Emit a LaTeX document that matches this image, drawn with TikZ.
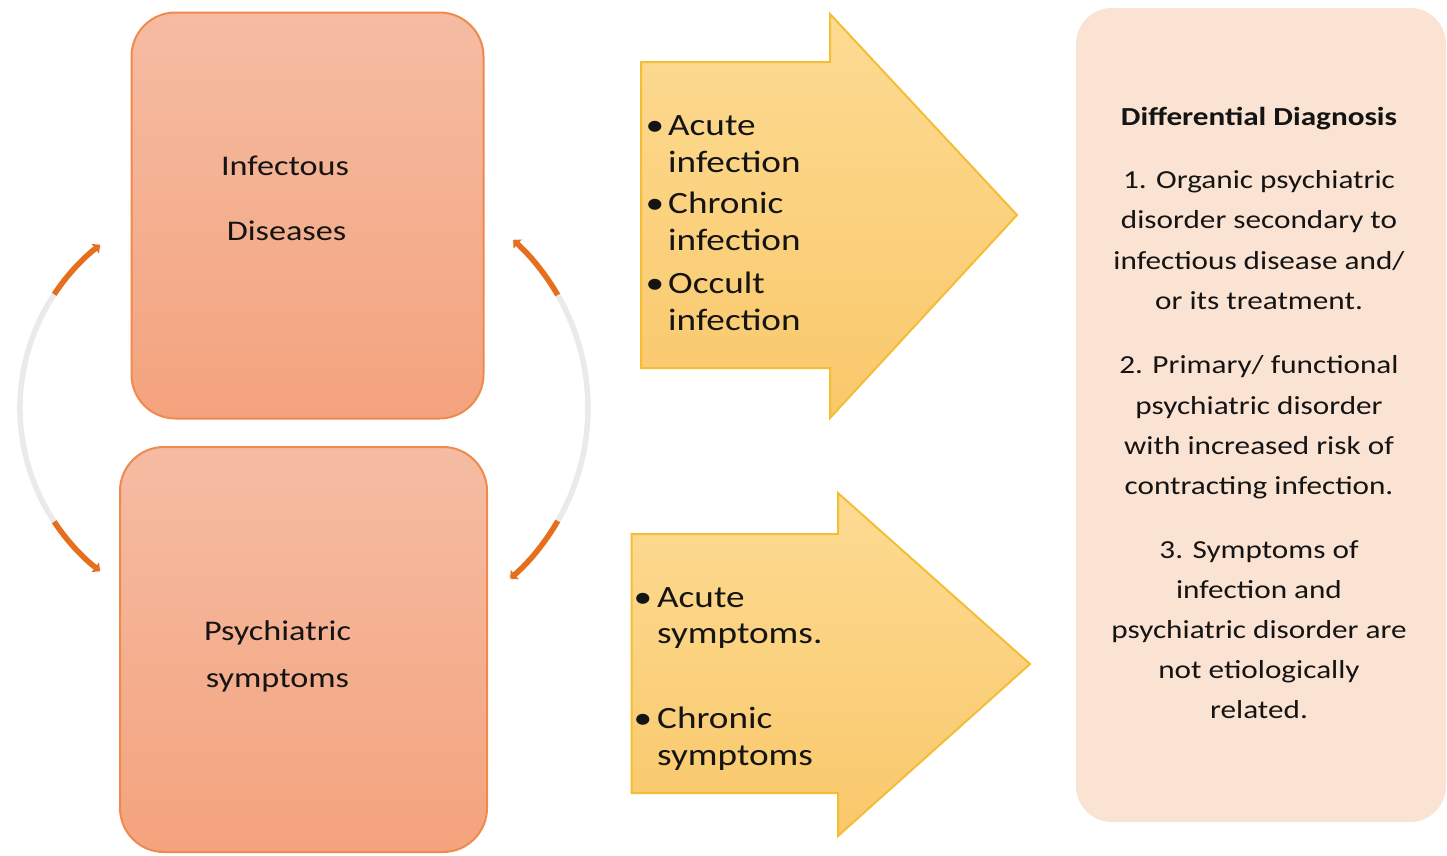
\documentclass[tikz,border=0pt]{standalone}
\usepackage{fontspec}
\setmainfont{Carlito}[FakeStretch=1.2]
\usetikzlibrary{arrows.meta}
\definecolor{boxtop}{HTML}{F5BCA3}
\definecolor{boxbot}{HTML}{F4A37D}
\definecolor{boxline}{HTML}{EF8A4E}
\definecolor{arrtop}{HTML}{FDDB93}
\definecolor{arrbot}{HTML}{F9C86A}
\definecolor{arrline}{HTML}{F3BE35}
\definecolor{ddfill}{HTML}{FBE3D3}
\definecolor{arcgray}{HTML}{EAEAEA}
\definecolor{arcorange}{HTML}{E66E1C}
\definecolor{txt}{HTML}{141414}
\begin{document}
\begin{tikzpicture}[x=1pt,y=-1pt,
  lbox/.style={draw=boxline, line width=2pt, rounded corners=44pt, top color=boxtop, bottom color=boxbot, inner sep=0pt},
  ddbox/.style={fill=ddfill, rounded corners=36pt, inner sep=0pt},
  blockarrow/.style={draw=arrline, line width=2pt, top color=arrtop, bottom color=arrbot, line join=miter},
  boxlabel/.style={anchor=base, font=\fontsize{28.5}{34}\selectfont, inner sep=0pt, text=txt},
  arrtxt/.style={anchor=base west, font=\fontsize{31}{37}\selectfont, inner sep=0pt, text=txt},
  bul/.style={anchor=base, font=\fontsize{31}{37}\selectfont, inner sep=0pt, text=txt},
  ddtxt/.style={anchor=base, font=\fontsize{26}{40}\selectfont, inner sep=0pt, text=txt},
  arcbase/.style={draw=arcgray, line width=5.5pt},
  arcend/.style={draw=arcorange, line width=5.5pt, -{Triangle[length=6pt,width=12pt]}}
]
\useasboundingbox (0,0) rectangle (1447,855);
\fill[white] (0,0) rectangle (1447,855);

% left boxes
\node[lbox, minimum width=352pt, minimum height=406pt] (inf) at (307.5,215.5) {};
\node[lbox, minimum width=367pt, minimum height=405pt] (psy) at (303.5,649.5) {};
\node[boxlabel] (infa) at (285,175) {Infectous};
\node[boxlabel] (infb) at (286.5,240) {Diseases};
\node[boxlabel] (psya) at (277.5,640) {Psychiatric};
\node[boxlabel] (psyb) at (277.5,687) {symptoms};

% circular connectors
\coordinate (la1) at (100,245);
\coordinate (la1s) at (54.2,294.3);
\coordinate (la2s) at (54.2,521.7);
\coordinate (la2) at (100.0,571.0);
\coordinate (ra1) at (513.2,240.1);
\coordinate (ra1s) at (557.7,295);
\coordinate (ra2s) at (557.7,521);
\coordinate (ra2) at (510.3,578.6);
\draw[arcbase] (la1) arc[start angle=232.3, end angle=127.7, radius=206];
\draw[arcbase] (ra1) arc[start angle=-48, end angle=49, radius=226];
\draw[arcend] (la1s) arc[start angle=213.5, end angle=232.3, radius=206];
\draw[arcend] (la2s) arc[start angle=146.5, end angle=127.7, radius=206];
\draw[arcend] (ra1s) arc[start angle=-30, end angle=-48, radius=226];
\draw[arcend] (ra2s) arc[start angle=30, end angle=49, radius=226];

% block arrows
\draw[blockarrow] (641,62) -- (830,62) -- (830,14) -- (1017,215) -- (830,418) -- (830,368) -- (641,368) -- cycle;
\draw[blockarrow] (631.5,534) -- (838,534) -- (838,493) -- (1030,664) -- (838,836) -- (838,793) -- (631.5,793) -- cycle;

\node[bul] (b1) at (655,135) {•};
\node[arrtxt] (a1) at (668,135) {Acute};
\node[arrtxt] (a2) at (668,172) {infection};
\node[bul] (b2) at (655,213) {•};
\node[arrtxt] (a3) at (668,213) {Chronic};
\node[arrtxt] (a4) at (668,250) {infection};
\node[bul] (b3) at (655,293) {•};
\node[arrtxt] (a5) at (668,293) {Occult};
\node[arrtxt] (a6) at (668,330) {infection};

\node[bul] (b4) at (643,607) {•};
\node[arrtxt] (s1) at (657,607) {Acute};
\node[arrtxt] (s2) at (657,643) {symptoms.};
\node[bul] (b5) at (643,728) {•};
\node[arrtxt] (s3) at (657,728) {Chronic};
\node[arrtxt] (s4) at (657,765) {symptoms};

% differential diagnosis box
\node[ddbox, minimum width=370pt, minimum height=814pt] (dd) at (1261,415) {};
\node[ddtxt, font=\fontsize{26}{40}\selectfont\bfseries] (d0) at (1259,125) {Differential Diagnosis};
\node[ddtxt] (d1) at (1259,188) {1. Organic psychiatric};
\node[ddtxt] (d2) at (1259,228) {disorder secondary to};
\node[ddtxt] (d3) at (1259,269) {infectious disease and/};
\node[ddtxt] (d4) at (1259,309) {or its treatment.};
\node[ddtxt] (d5) at (1259,373) {2. Primary/ functional};
\node[ddtxt] (d6) at (1259,414) {psychiatric disorder};
\node[ddtxt] (d7) at (1259,454) {with increased risk of};
\node[ddtxt] (d8) at (1259,494) {contracting infection.};
\node[ddtxt] (d9) at (1259,558) {3. Symptoms of};
\node[ddtxt] (d10) at (1259,598) {infection and};
\node[ddtxt] (d11) at (1259,638) {psychiatric disorder are};
\node[ddtxt] (d12) at (1259,678) {not etiologically};
\node[ddtxt] (d13) at (1259,718) {related.};
\end{tikzpicture}
\end{document}
